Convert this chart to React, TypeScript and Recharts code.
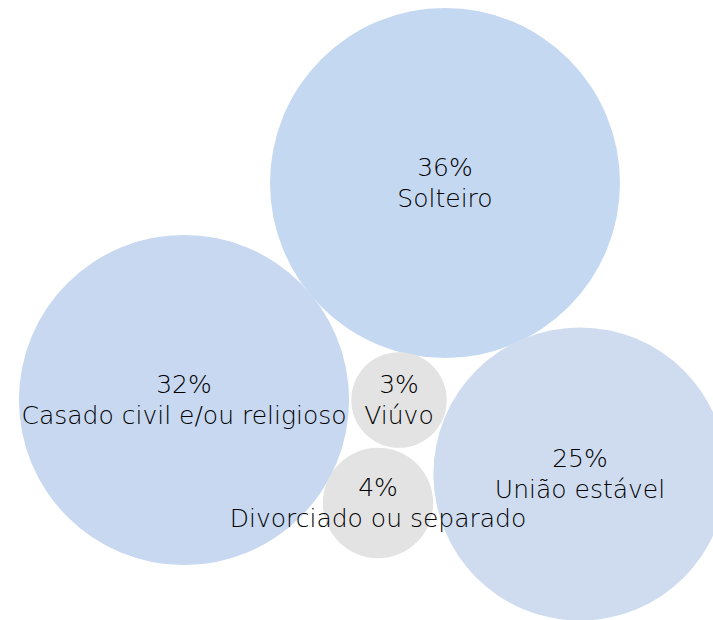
import React from "react";
import { ScatterChart, Scatter, XAxis, YAxis, ZAxis, Cell } from "recharts";

// bubble layout (chart units = px of the 713x620 frame)
const categories = [
  "Solteiro",
  "Casado civil e/ou religioso",
  "União estável",
  "Viúvo",
  "Divorciado ou separado",
];
const shares = [36.2, 32.2, 25.4, 2.7, 3.6];
const posX = [445, 184, 580, 399, 378];
const posY = [183, 400, 474, 400, 503];
const colors = ["#C5D8F2", "#C7D8F0", "#CFDCF0", "#E3E3E3", "#E3E3E3"];

const data = categories.map((name, i) => ({
  name,
  value: shares[i],
  x: posX[i],
  y: posY[i],
}));

const FONT = "'DejaVu Sans', sans-serif";
const MAX_R = 175;

const LabelShape = (props: any) => {
  const { cx, cy, payload } = props;
  return (
    <g>
      <text
        x={cx}
        y={cy - 16}
        textAnchor="middle"
        dominantBaseline="central"
        fontFamily={FONT}
        fontSize={25}
        fontWeight={300}
        fill="#000"
      >
        {`${Math.round(payload.value)}%`}
      </text>
      <text
        x={cx}
        y={cy + 15}
        textAnchor="middle"
        dominantBaseline="central"
        fontFamily={FONT}
        fontSize={25}
        fontWeight={300}
        fill="#000"
      >
        {payload.name}
      </text>
    </g>
  );
};

export default function App() {
  return (
    <div style={{ position: "absolute", left: 0, top: 0, background: "#fff" }}>
      <ScatterChart
        width={713}
        height={620}
        margin={{ top: 0, right: 0, bottom: 0, left: 0 }}
      >
        <XAxis type="number" dataKey="x" domain={[0, 713]} hide />
        <YAxis type="number" dataKey="y" domain={[0, 620]} reversed hide />
        <ZAxis
          type="number"
          dataKey="value"
          domain={[0, 36.2]}
          range={[0, Math.PI * MAX_R * MAX_R]}
        />
        <Scatter data={data} isAnimationActive={false}>
          {data.map((d, i) => (
            <Cell key={d.name} fill={colors[i]} />
          ))}
        </Scatter>
        <Scatter data={data} isAnimationActive={false} shape={LabelShape} />
      </ScatterChart>
    </div>
  );
}
